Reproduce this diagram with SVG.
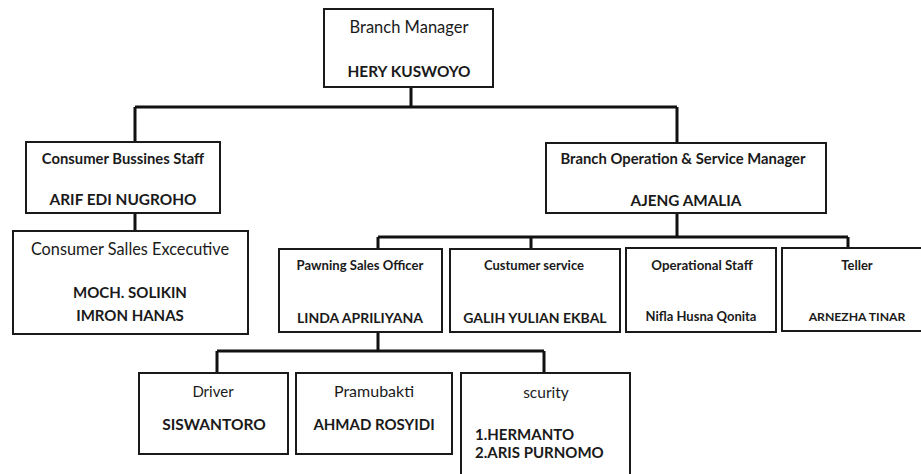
<svg xmlns="http://www.w3.org/2000/svg" width="921" height="474" viewBox="0 0 921 474">
<style>
.box{fill:#fff;stroke:#1a1a1a;stroke-width:2}
.conn{fill:none;stroke:#111;stroke-width:3}
text{font-family:Lato,"Open Sans","Liberation Sans",sans-serif;fill:#1a1a1a;text-anchor:middle}
.b{font-weight:bold}
.l{text-anchor:start}
</style>
<rect width="921" height="474" fill="#fff"/>
<g id="connectors">
<path class="conn" d="M411 87V107M135 107H677M135 107V142M677 107V143"/>
<path class="conn" d="M135 213V231"/>
<path class="conn" d="M677 213V237M378 237H848M378 237V249M531 237V249M848 237V248"/>
<path class="conn" d="M378 332V351M217 351H544M217 351V373M544 351V373"/>
</g>
<g id="branch-manager">
<rect class="box" x="324" y="9" width="169" height="78"/>
<text x="409" y="33" font-size="16.5">Branch Manager</text>
<text class="b" x="409" y="77" font-size="15.4">HERY KUSWOYO</text>
</g>
<g id="consumer-bussines-staff">
<rect class="box" x="26" y="142" width="194" height="71"/>
<text class="b" x="123" y="164" font-size="14.8">Consumer Bussines Staff</text>
<text class="b" x="123" y="205" font-size="15.4">ARIF EDI NUGROHO</text>
</g>
<g id="consumer-salles-executive">
<rect class="box" x="13" y="231" width="235" height="103"/>
<text x="130" y="255" font-size="16.3">Consumer Salles Excecutive</text>
<text class="b" x="130" y="298" font-size="15">MOCH. SOLIKIN</text>
<text class="b" x="130" y="321" font-size="15">IMRON HANAS</text>
</g>
<g id="branch-operation-manager">
<rect class="box" x="546" y="143" width="280" height="70"/>
<text class="b" x="683" y="164" font-size="14.8">Branch Operation &amp; Service Manager</text>
<text class="b" x="686" y="206" font-size="15.3">AJENG AMALIA</text>
</g>
<g id="pawning-sales-officer">
<rect class="box" x="279" y="249" width="163" height="83"/>
<text class="b" x="360" y="270" font-size="13.1">Pawning Sales Officer</text>
<text class="b" x="360" y="323" font-size="14">LINDA APRILIYANA</text>
</g>
<g id="custumer-service">
<rect class="box" x="450" y="249" width="170" height="83"/>
<text class="b" x="534" y="270" font-size="13">Custumer service</text>
<text class="b" x="535" y="323" font-size="14">GALIH YULIAN EKBAL</text>
</g>
<g id="operational-staff">
<rect class="box" x="626" y="248" width="150" height="84"/>
<text class="b" x="702" y="270" font-size="13.3">Operational Staff</text>
<text class="b" x="701" y="321" font-size="13">Nifla Husna Qonita</text>
</g>
<g id="teller">
<rect class="box" x="782" y="248" width="150" height="83"/>
<text class="b" x="857" y="270" font-size="13">Teller</text>
<text class="b" x="857" y="321" font-size="12.2">ARNEZHA TINAR</text>
</g>
<g id="driver">
<rect class="box" x="139" y="373" width="149" height="81"/>
<text x="213" y="397" font-size="15">Driver</text>
<text class="b" x="214" y="430" font-size="15.5">SISWANTORO</text>
</g>
<g id="pramubakti">
<rect class="box" x="296" y="373" width="156" height="81"/>
<text x="374" y="397" font-size="16">Pramubakti</text>
<text class="b" x="374" y="430" font-size="15">AHMAD ROSYIDI</text>
</g>
<g id="scurity">
<rect class="box" x="461" y="373" width="169" height="110"/>
<text x="546" y="398" font-size="15.5">scurity</text>
<text class="b l" x="475" y="440" font-size="15">1.HERMANTO</text>
<text class="b l" x="475" y="458" font-size="15">2.ARIS PURNOMO</text>
</g>
</svg>
